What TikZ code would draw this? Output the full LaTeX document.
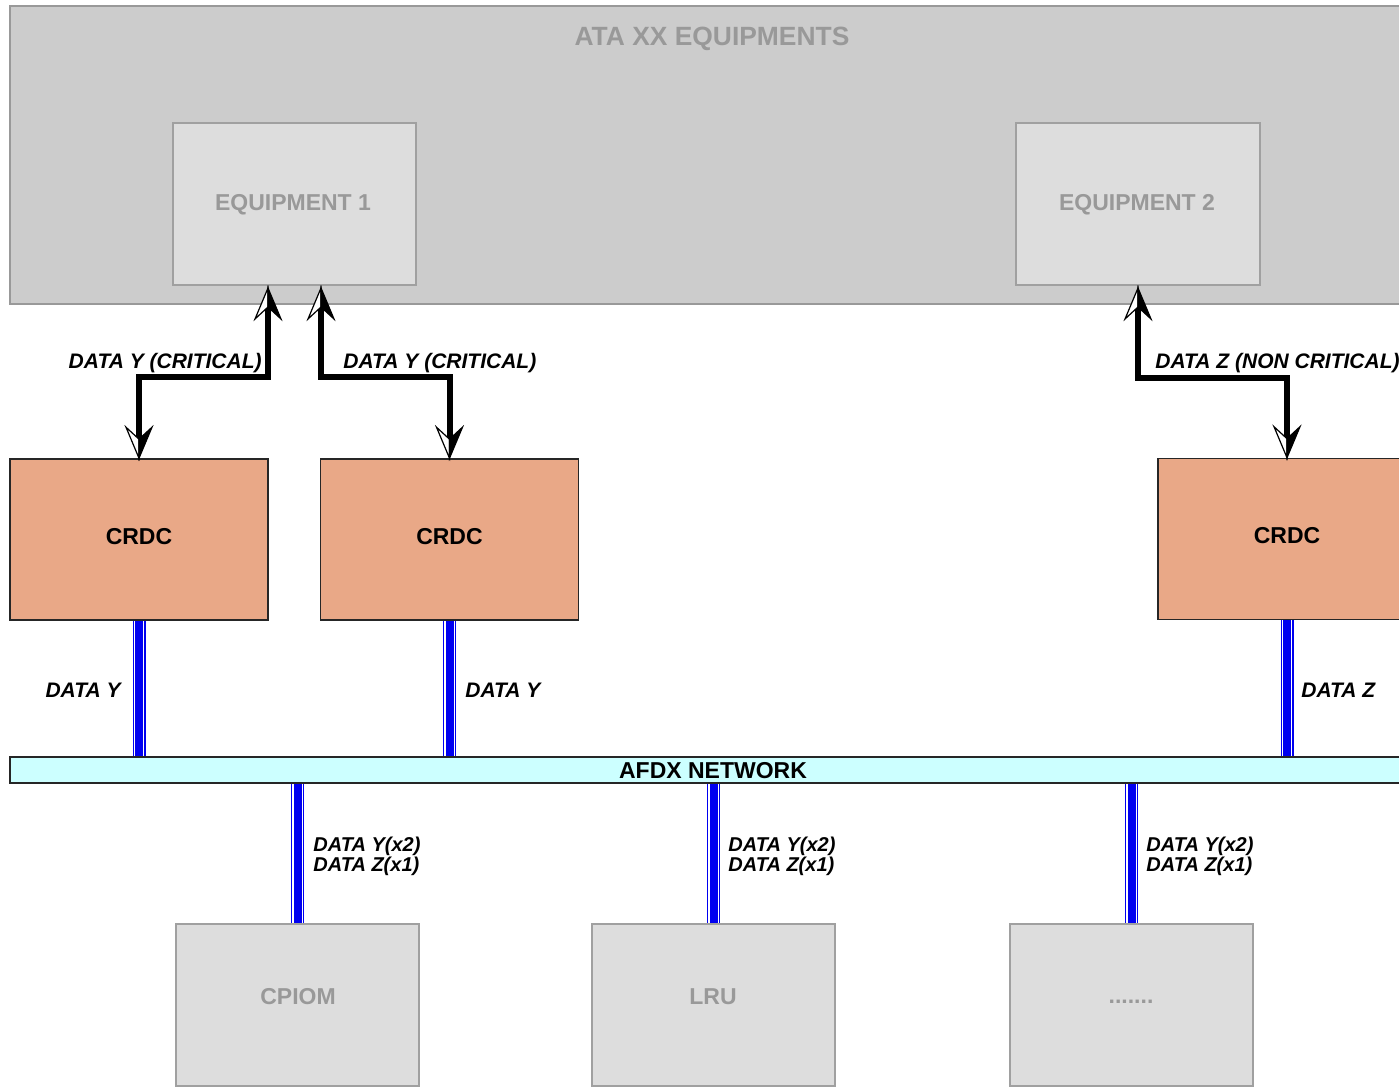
\documentclass[tikz,border=0pt]{standalone}
\usepackage{fontspec}
\setmainfont{Liberation Sans}
\usetikzlibrary{calc}
\definecolor{ataGray}{HTML}{CCCCCC}
\definecolor{eqGray}{HTML}{DDDDDD}
\definecolor{txtGray}{HTML}{999999}
\definecolor{edgeGray}{HTML}{A0A0A0}
\definecolor{crdcFill}{HTML}{E9A887}
\definecolor{afdxFill}{HTML}{CCFFFF}
\definecolor{linkBlue}{HTML}{0000F0}
\tikzset{
  graybox/.style={draw=edgeGray, fill=eqGray, line width=1pt, inner sep=0pt,
    minimum width=121.5pt, minimum height=81pt},
  graytext/.style={inner sep=0pt, text=txtGray, font=\fontsize{11.5}{13}\selectfont\bfseries},
  crdcbox/.style={draw=black!85, fill=crdcFill, line width=0.8pt, inner sep=0pt,
    minimum width=129pt, minimum height=80.5pt},
  blacktext/.style={inner sep=0pt, font=\fontsize{11.5}{13}\selectfont\bfseries},
  lbl/.style={inner sep=0pt, font=\fontsize{10.5}{12}\selectfont\bfseries\itshape},
  lbltwo/.style={inner sep=0pt, align=left, font=\fontsize{10}{10}\selectfont\bfseries\itshape},
  bus/.style={draw=black, line width=3pt, shorten <=9pt, shorten >=9pt},
  link/.style={draw=linkBlue, line width=6.5pt,
    postaction={draw=white, line width=5.2pt},
    postaction={draw=linkBlue, line width=4pt}},
  pics/headup/.style={code={
    \filldraw[fill=white, draw=black, line width=0.6pt] (0,0) -- (-13,31) -- (0,19) -- cycle;
    \filldraw[fill=black, draw=black, line width=0.6pt] (0,0) -- (13,31) -- (0,19) -- cycle;
  }},
  pics/headdown/.style={code={
    \filldraw[fill=white, draw=black, line width=0.6pt] (0,0) -- (-13,-31) -- (0,-19) -- cycle;
    \filldraw[fill=black, draw=black, line width=0.6pt] (0,0) -- (13,-31) -- (0,-19) -- cycle;
  }},
}
\begin{document}
\begin{tikzpicture}[x=0.5pt, y=-0.5pt]
\clip (0,0) rectangle (1399,1088);
\fill[white] (0,0) rectangle (1399,1088);

% equipment area
\node[draw=txtGray, fill=ataGray, line width=1pt, inner sep=0pt,
      minimum width=700pt, minimum height=149pt] (ata) at (710,155) {};
\node[text=txtGray, inner sep=0pt, font=\fontsize{13.2}{15}\selectfont\bfseries] (atat) at (712,39) {ATA XX EQUIPMENTS};
\node[graybox] (e1) at (294.5,204) {};
\node[graybox, minimum width=122pt] (e2) at (1138,204) {};
\node[graytext] (e1t) at (293,205) {EQUIPMENT 1};
\node[graytext] (e2t) at (1137,205) {EQUIPMENT 2};

% concentrators
\node[crdcbox] (c1) at (139,539.5) {};
\node[crdcbox] (c2) at (449.5,539.5) {};
\node[crdcbox] (c3) at (1287,539) {};
\node[blacktext] (c1t) at (139,537) {CRDC};
\node[blacktext] (c2t) at (449.5,537) {CRDC};
\node[blacktext] (c3t) at (1287,536) {CRDC};

% network
\node[draw=black!85, fill=afdxFill, line width=0.8pt, inner sep=0pt,
      minimum width=700pt, minimum height=13pt] (afdx) at (710,770) {};
\node[blacktext] (afdxt) at (713,771) {AFDX NETWORK};

% end systems
\node[graybox] (cp) at (297.5,1005) {};
\node[graybox] (lru) at (713.5,1005) {};
\node[graybox] (etc) at (1131.5,1005) {};
\node[graytext] (cpt) at (298,997) {CPIOM};
\node[graytext] (lrut) at (713,997) {LRU};
\node[graytext] (etct) at (1131,1002) {.......};

% critical / non critical data paths
\coordinate (t1) at ($(e1.south)+(-26.5,2)$);
\coordinate (t2) at ($(e1.south)+(26.5,2)$);
\coordinate (t3) at ($(e2.south)+(0,2)$);
\draw[bus] (t1) |- ($(c1.north)+(0,-81)$) -- (c1.north);
\draw[bus] (t2) |- ($(c2.north)+(0,-81)$) -- (c2.north);
\draw[bus] (t3) |- ($(c3.north)+(0,-80)$) -- (c3.north);
\pic at (t1) {headup};
\pic at (t2) {headup};
\pic at (t3) {headup};
\pic at (c1.north) {headdown};
\pic at (c2.north) {headdown};
\pic at (c3.north) {headdown};

\node[lbl, anchor=east] (l1) at (262,363) {DATA Y (CRITICAL)};
\node[lbl, anchor=west] (l2) at (343,363) {DATA Y (CRITICAL)};
\node[lbl, anchor=west] (l3) at (1155,363) {DATA Z (NON CRITICAL)};

% network links
\draw[link] (c1.south) -- (c1.south |- afdx.north);
\draw[link] (c2.south) -- (c2.south |- afdx.north);
\draw[link] (c3.south) -- (c3.south |- afdx.north);
\draw[link] (cp.north |- afdx.south) -- (cp.north);
\draw[link] (lru.north |- afdx.south) -- (lru.north);
\draw[link] (etc.north |- afdx.south) -- (etc.north);

\node[lbl, anchor=east] (d1) at (121,690) {DATA Y};
\node[lbl, anchor=west] (d2) at (465,690) {DATA Y};
\node[lbl, anchor=west] (d3) at (1301,690) {DATA Z};

\node[lbltwo, anchor=west] (m1) at (313,856) {DATA Y(x2)\\DATA Z(x1)};
\node[lbltwo, anchor=west] (m2) at (728,856) {DATA Y(x2)\\DATA Z(x1)};
\node[lbltwo, anchor=west] (m3) at (1146,856) {DATA Y(x2)\\DATA Z(x1)};
\end{tikzpicture}
\end{document}
